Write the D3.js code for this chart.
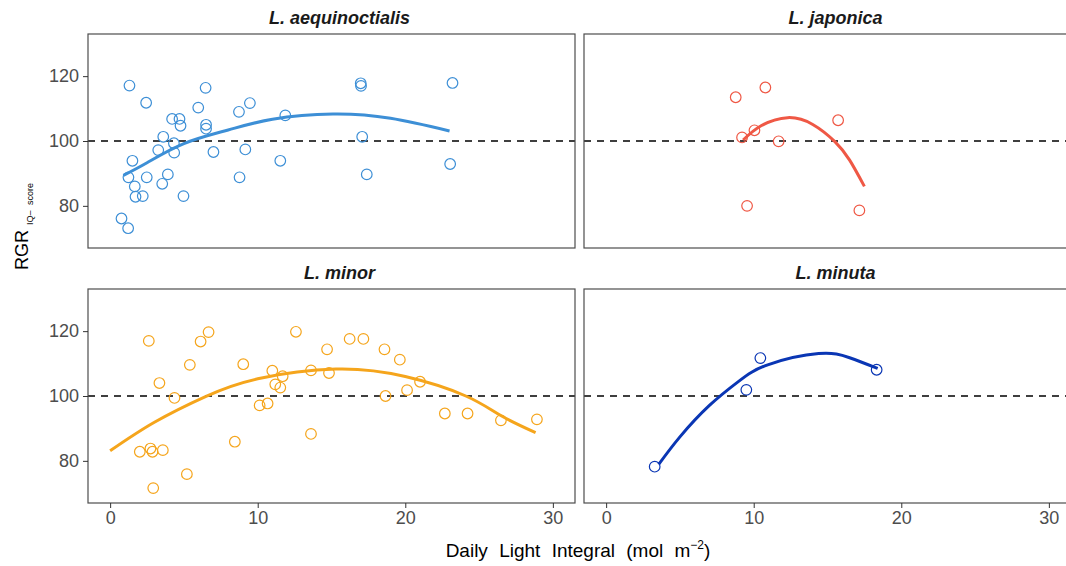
<html>
<head>
<meta charset="utf-8">
<title>RGR vs daily light integral</title>
<script src="https://d3js.org/d3.v7.min.js"></script>
<style>
  body { margin: 0; background: #fff; }
  svg text { font-family: "Liberation Sans", Arial, sans-serif; }
  .tick line { stroke: #333; }
  .tick text { fill: #4d4d4d; font-size: 18px; }
</style>
</head>
<body>
<svg id="chart" width="1066" height="566"></svg>
<script>
// species panels, in facet order
const species = ['L. aequinoctialis', 'L. japonica', 'L. minor', 'L. minuta'];
const colors = ['#3d8fd6', '#ef5845', '#f5a51c', '#0a36b4'];

// observed points [DLI, RGR]
const aequinoctialisPts = [
  [1.31,117.1],[2.44,111.8],[6.47,116.4],[5.97,110.3],[8.73,109.0],[9.47,111.7],
  [4.2,106.8],[4.7,106.8],[4.77,104.7],[6.5,105.0],[6.5,103.8],[11.87,107.9],
  [16.98,117.8],[17.0,117.0],[23.2,117.9],[3.6,101.3],[4.32,99.3],[3.26,97.2],
  [4.34,96.4],[7.0,96.6],[9.16,97.4],[17.08,101.3],[1.51,93.9],[11.53,93.9],
  [23.04,92.9],[1.24,88.8],[2.48,88.8],[3.91,89.7],[8.77,88.8],[17.39,89.7],
  [1.67,86.0],[3.53,86.8],[1.72,82.8],[2.21,83.0],[4.97,83.0],[0.77,76.1],[1.22,73.1]
];
const japonicaPts = [
  [8.78,113.5],[10.79,116.5],[15.72,106.4],[10.05,103.3],[9.21,101.1],
  [11.69,99.9],[9.55,80.0],[17.16,78.6]
];
const minorPts = [
  [2.62,117.0],[6.13,116.8],[6.67,119.7],[12.59,119.8],[16.23,117.6],[17.16,117.6],
  [14.7,114.4],[18.59,114.4],[19.63,111.2],[5.4,109.6],[9.02,109.8],[10.99,107.8],
  [13.61,107.9],[14.83,107.1],[11.69,106.1],[11.19,103.6],[11.53,102.6],[3.34,104.0],
  [21.0,104.4],[20.12,101.8],[4.36,99.4],[18.66,100.0],[10.13,97.1],[10.67,97.7],
  [22.68,94.6],[24.22,94.6],[26.48,92.5],[28.92,92.8],[13.61,88.3],[8.45,85.9],
  [2.01,82.8],[2.73,83.8],[2.87,82.8],[3.57,83.3],[5.2,75.9],[2.92,71.6]
];
const minutaPts = [[3.29,78.2],[9.5,101.9],[10.45,111.7],[18.33,108.1]];

// fitted curves
const aequinoctialisFit = [[0.9,89.4],[2.5,93.3],[5,99.2],[8,103.4],[11,106.7],[15.1,108.3],[19,107.0],[23,103.1]];
const japonicaFit = [[9.28,100.3],[10.5,104.7],[12.3,107.2],[14,105.1],[15.5,99.8],[16.5,94.1],[17.5,86.0]];
const minorFit = [[0,83.1],[3,91.9],[6.5,99.9],[10,105.3],[15.3,108.3],[20,106.0],[24.1,100.0],[26.5,93.9],[28.83,88.7]];
const minutaFit = [[3.56,78.9],[5,87.4],[7,97.1],[9,104.6],[11,109.7],[14.4,113.1],[16.5,111.8],[18.4,108.5]];

const pointSets = [aequinoctialisPts, japonicaPts, minorPts, minutaPts];
const fitSets = [aequinoctialisFit, japonicaFit, minorFit, minutaFit];

const xTicks = [0, 10, 20, 30];
const yTicks = [80, 100, 120];
const refLine = 100;

// layout
const panelW = 487, panelH = 214;
const colX = [88, 584];
const rowY = [34, 289];

const svg = d3.select('#chart');

const x = d3.scaleLinear().domain([-1.5, 31.5]).range([0, panelW]);
const y = d3.scaleLinear().domain([67, 133]).range([panelH, 0]);

const line = d3.line()
  .x(d => x(d[0]))
  .y(d => y(d[1]))
  .curve(d3.curveNatural);

species.forEach((name, i) => {
  const col = i % 2, row = Math.floor(i / 2);
  const g = svg.append('g')
    .attr('transform', `translate(${colX[col]},${rowY[row]})`);

  // strip title
  g.append('text')
    .attr('x', panelW / 2 + 8)
    .attr('y', -10)
    .attr('text-anchor', 'middle')
    .style('font-size', '18px')
    .style('font-weight', 'bold')
    .style('font-style', 'italic')
    .attr('fill', '#1a1a1a')
    .text(name);

  // reference line at 100
  g.append('line')
    .attr('x1', 0).attr('x2', panelW)
    .attr('y1', y(refLine)).attr('y2', y(refLine))
    .attr('stroke', '#000')
    .attr('stroke-width', 1.7)
    .attr('stroke-dasharray', '7,6');

  g.selectAll('circle')
    .data(pointSets[i])
    .enter()
    .append('circle')
      .attr('cx', d => x(d[0]))
      .attr('cy', d => y(d[1]))
      .attr('r', 5.3)
      .attr('fill', 'none')
      .attr('stroke', colors[i])
      .attr('stroke-width', 1.2);

  g.append('path')
    .datum(fitSets[i])
    .attr('d', line)
    .attr('fill', 'none')
    .attr('stroke', colors[i])
    .attr('stroke-width', 3);

  // panel frame
  g.append('rect')
    .attr('width', panelW).attr('height', panelH)
    .attr('fill', 'none')
    .attr('stroke', '#4d4d4d')
    .attr('stroke-width', 1.2);

  if (col === 0) {
    g.append('g')
      .call(d3.axisLeft(y).tickValues(yTicks).tickSize(5).tickPadding(4))
      .call(a => a.select('.domain').remove());
  }
  if (row === 1) {
    g.append('g')
      .attr('transform', `translate(0,${panelH})`)
      .call(d3.axisBottom(x).tickValues(xTicks).tickSize(5).tickPadding(3))
      .call(a => a.select('.domain').remove());
  }
});

// axis titles
const xt = svg.append('text')
  .attr('x', 578).attr('y', 557)
  .attr('text-anchor', 'middle')
  .style('font-size', '19px')
  .style('word-spacing', '6px')
  .attr('fill', '#000');
xt.append('tspan').text('Daily Light Integral (mol m');
xt.append('tspan').attr('dy', -8).style('font-size', '12px').text('\u22122');
xt.append('tspan').attr('dy', 8).text(')');

const yt = svg.append('text')
  .attr('transform', 'translate(28,270) rotate(-90)')
  .attr('text-anchor', 'start')
  .style('font-size', '18px')
  .attr('fill', '#000');
yt.append('tspan').text('RGR ');
yt.append('tspan').attr('dy', 5).style('font-size', '9px').style('word-spacing', '3px').text('IQ\u2013 score');
</script>
</body>
</html>
